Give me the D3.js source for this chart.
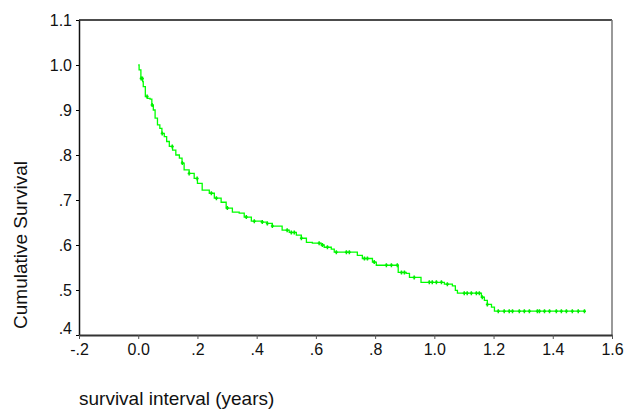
<!DOCTYPE html>
<html>
<head>
<meta charset="utf-8">
<script src="https://d3js.org/d3.v7.min.js"></script>
<style>
  body { margin: 0; background: #fff; }
  svg { display: block; font-family: Arial, "Liberation Sans", sans-serif; }
</style>
</head>
<body>
<svg></svg>
<script>
// step times (years) and cumulative survival after each step
const stepTimes = [0.000, 0.003, 0.009, 0.015, 0.017, 0.024, 0.031, 0.040, 0.046, 0.051,
  0.057, 0.065, 0.073, 0.080, 0.088, 0.096, 0.105, 0.116, 0.127, 0.139,
  0.148, 0.155, 0.172, 0.189, 0.200, 0.216, 0.240, 0.257, 0.280, 0.297,
  0.318, 0.341, 0.358, 0.382, 0.416, 0.436, 0.453, 0.486, 0.510, 0.534,
  0.551, 0.568, 0.588, 0.618, 0.628, 0.652, 0.662, 0.740, 0.757, 0.791,
  0.804, 0.878, 0.905, 0.916, 0.955, 1.034, 1.061, 1.071, 1.078, 1.159,
  1.169, 1.179, 1.193, 1.203, 1.510];
const survival = [1.000, 0.989, 0.970, 0.963, 0.952, 0.930, 0.926, 0.924, 0.911, 0.900,
  0.882, 0.867, 0.859, 0.848, 0.841, 0.830, 0.819, 0.811, 0.800, 0.793,
  0.782, 0.767, 0.759, 0.748, 0.737, 0.722, 0.715, 0.704, 0.695, 0.682,
  0.673, 0.671, 0.662, 0.653, 0.651, 0.648, 0.642, 0.633, 0.628, 0.622,
  0.615, 0.606, 0.604, 0.600, 0.595, 0.591, 0.584, 0.577, 0.570, 0.562,
  0.555, 0.539, 0.537, 0.528, 0.517, 0.513, 0.509, 0.499, 0.493, 0.484,
  0.477, 0.468, 0.462, 0.453, 0.453];
// censored cases
const censorTimes = [0.010, 0.014, 0.030, 0.047, 0.081, 0.115, 0.149, 0.172, 0.199, 0.247,
  0.264, 0.301, 0.365, 0.392, 0.419, 0.436, 0.453, 0.503, 0.517, 0.527,
  0.551, 0.611, 0.622, 0.639, 0.669, 0.703, 0.713, 0.764, 0.774, 0.797,
  0.838, 0.855, 0.875, 0.889, 0.899, 0.932, 0.983, 0.993, 1.007, 1.024,
  1.044, 1.101, 1.111, 1.125, 1.142, 1.152, 1.162, 1.179, 1.216, 1.236,
  1.253, 1.264, 1.287, 1.304, 1.321, 1.348, 1.355, 1.372, 1.389, 1.412,
  1.429, 1.446, 1.466, 1.486, 1.507];
const xTicks = [-0.2, 0, 0.2, 0.4, 0.6, 0.8, 1.0, 1.2, 1.4, 1.6];
const yTicks = [0.4, 0.5, 0.6, 0.7, 0.8, 0.9, 1.0, 1.1];

var plotLeft = 79, plotRight = 612, plotTop = 20, plotBottom = 335;

var svg = d3.select("svg").attr("width", 626).attr("height", 409);

var x = d3.scaleLinear().domain([-0.2, 1.6]).range([plotLeft, plotRight]);
var y = d3.scaleLinear().domain([0.4, 1.1]).range([plotBottom, plotTop]);

// SPSS style labels: ".2", "-.2", "0.0", "1.0"
function fmt(v) {
  if (Math.abs(v) < 1e-9) return "0.0";
  var s = Math.abs(v).toFixed(1);
  if (s.charAt(0) === "0") s = s.slice(1);
  return (v < 0 ? "-" : "") + s;
}

// frame
svg.append("line").attr("x1", plotLeft).attr("x2", plotRight).attr("y1", plotTop).attr("y2", plotTop)
  .attr("stroke", "#111").attr("stroke-width", 1.5);
svg.append("line").attr("x1", plotRight).attr("x2", plotRight).attr("y1", plotTop).attr("y2", plotBottom)
  .attr("stroke", "#777").attr("stroke-width", 1.5);

// y axis
var yAxis = svg.append("g")
  .attr("transform", "translate(" + plotLeft + ",0)")
  .call(d3.axisLeft(y).tickValues(yTicks).tickFormat(fmt).tickSize(3).tickPadding(4).tickSizeOuter(0));
yAxis.select(".domain").attr("stroke", "#111").attr("stroke-width", 1.5);
yAxis.selectAll("text").attr("font-size", 16).attr("fill", "#111")
  .attr("font-family", "Arial, 'Liberation Sans', sans-serif")
  .attr("dy", function (d) { return d === 0.4 ? "-0.1em" : "0.32em"; });

// x axis
var xAxis = svg.append("g")
  .attr("transform", "translate(0," + plotBottom + ")")
  .call(d3.axisBottom(x).tickValues(xTicks).tickFormat(fmt).tickSize(4).tickPadding(5).tickSizeOuter(0));
xAxis.select(".domain").attr("stroke", "#333").attr("stroke-width", 2);
xAxis.selectAll(".tick line").attr("stroke", "#555");
xAxis.selectAll("text").attr("font-size", 16).attr("fill", "#111")
  .attr("font-family", "Arial, 'Liberation Sans', sans-serif");

// survival curve
var pts = stepTimes.map(function (t, i) { return [t, survival[i]]; });
var line = d3.line()
  .x(function (d) { return x(d[0]); })
  .y(function (d) { return y(d[1]); })
  .curve(d3.curveStepAfter);

svg.append("path")
  .datum(pts)
  .attr("d", line)
  .attr("fill", "none")
  .attr("stroke", "#00ff00")
  .attr("stroke-width", 1.3);

// censor marks
var bis = d3.bisector(function (d) { return d; }).right;
function survAt(t) {
  var i = bis(stepTimes, t) - 1;
  return survival[Math.max(0, i)];
}

svg.selectAll("myCensor")
  .data(censorTimes)
  .enter()
  .append("path")
  .attr("d", function (t) {
    var cx = x(t), cy = y(survAt(t));
    return "M" + (cx - 1.5) + "," + cy + "H" + (cx + 1.5) +
      "M" + cx + "," + (cy - 2) + "V" + (cy + 2);
  })
  .attr("stroke", "#00ee00")
  .attr("stroke-width", 1.5)
  .attr("fill", "none");

// titles
svg.append("text")
  .attr("transform", "translate(27,245)rotate(-90)")
  .attr("text-anchor", "middle")
  .attr("font-size", 19)
  .attr("fill", "#111")
  .text("Cumulative Survival");

svg.append("text")
  .attr("x", 79)
  .attr("y", 405)
  .attr("font-size", 19)
  .attr("fill", "#111")
  .text("survival interval (years)");
</script>
</body>
</html>
